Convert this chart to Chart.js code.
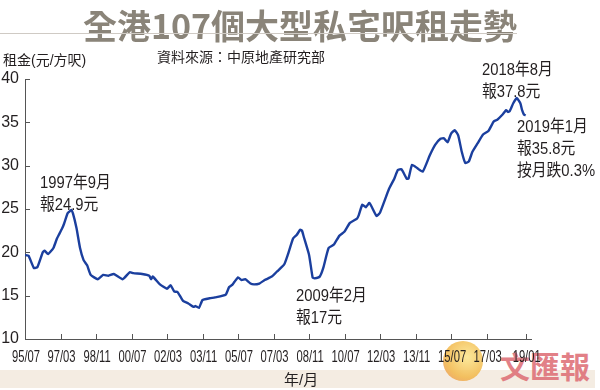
<!DOCTYPE html>
<html>
<head>
<meta charset="utf-8">
<script src="https://cdn.jsdelivr.net/npm/chart.js@4"></script>
<style>
  html, body { margin: 0; padding: 0; background: #fff; }
  #wrap { position: relative; width: 600px; height: 390px; overflow: hidden;
          font-family: 'Liberation Sans', 'Noto Sans CJK TC', sans-serif; color: #231f20; }
  #chart { position: absolute; left: 0; top: 0; }
  .txt { position: absolute; white-space: nowrap; line-height: 1; }
  #title { left: 0; width: 600px; top: 0; text-align: center; font: bold 34px 'Noto Sans CJK TC', sans-serif;
           color: #8a8479; }
  #rule { position: absolute; left: 0; top: 33px; width: 517px; height: 1px; background: #cfcac4; }
  #band { position: absolute; left: 0; top: 370px; width: 595px; height: 18px; background: #f4ece2; }
  .note { font-size: 17px; line-height: 22px; transform: scaleX(0.87); transform-origin: 0 0;
          font-family: 'Liberation Sans', 'Noto Sans CJK TC', sans-serif; }
  .small { font-size: 14px; font-family: 'Liberation Sans', 'Noto Sans CJK TC', sans-serif; }
  #logoBall { position: absolute; left: 443px; top: 341px; width: 40px; height: 40px; border-radius: 50%;
              background: radial-gradient(circle at 60% 40%, #fbe58a, #f2b748 60%, #e98b5a); opacity: 0.85; }
  #logoTxt { left: 500px; top: 343px; font: bold 30px 'Noto Sans CJK TC', serif; color: #dd6b73; opacity: 0.85; }
</style>
</head>
<body>
<div id="wrap">
  <div id="band"></div>
  <div id="logoBall"></div>
  <div id="logoTxt" class="txt">文匯報</div>
  <canvas id="chart" width="600" height="390"></canvas>
  <div id="title" class="txt">全港107個大型私宅呎租走勢</div>
  <div id="rule"></div>
  <div class="txt small" style="left:3px;top:53px;">租金(元/方呎)</div>
  <div class="txt small" style="left:157px;top:50px;">資料來源：中原地產研究部</div>
  <div class="txt note" style="left:40px;top:172px;">1997年9月<br>報24.9元</div>
  <div class="txt note" style="left:296px;top:285px;">2009年2月<br>報17元</div>
  <div class="txt note" style="left:482px;top:59px;">2018年8月<br>報37.8元</div>
  <div class="txt note" style="left:517px;top:116px;">2019年1月<br>報35.8元<br>按月跌0.3%</div>
  <div class="txt small" style="left:284px;top:372px;font-size:15px;">年/月</div>
</div>
<script>
'use strict';

// ─── Data ─────────────────────────────────────────────────────────────────────
const months = [
  '1995/07','1995/09','1995/12','1996/02','1996/05','1996/06','1996/08','1996/11',
  '1997/01','1997/02','1997/04','1997/05','1997/07','1997/08','1997/09','1997/10','1997/12',
  '1998/02','1998/04','1998/06','1998/08','1998/12','1999/03','1999/06','1999/09',
  '2000/02','2000/06','2000/08','2001/01','2001/05','2001/06','2001/07','2001/11',
  '2002/03','2002/05','2002/07','2002/09','2002/12','2003/03','2003/06','2003/07','2003/09','2003/11',
  '2004/03','2004/06','2004/12','2005/02','2005/04','2005/05','2005/07','2005/09','2005/11',
  '2006/02','2006/04','2006/07','2006/10','2007/02','2007/05','2007/09','2007/11',
  '2008/02','2008/04','2008/06','2008/07','2008/08','2008/11','2009/01','2009/02','2009/05','2009/07','2009/10',
  '2010/01','2010/04','2010/07','2010/10','2011/02','2011/03','2011/05','2011/07','2011/09',
  '2012/01','2012/03','2012/08','2012/11','2013/01','2013/03','2013/06','2013/07','2013/09','2013/12',
  '2014/03','2014/07','2014/10','2015/01','2015/03','2015/05','2015/07','2015/09','2015/11',
  '2016/01','2016/03','2016/05','2016/07','2016/10','2017/01','2017/04','2017/07','2017/09','2017/12',
  '2018/02','2018/03','2018/04','2018/06','2018/08','2018/10','2018/11','2018/12','2019/01'
];
const rents = [
  19.7, 19.6, 18.2, 18.3, 20.0, 20.2, 19.8, 20.5,
  21.6, 22.0, 22.8, 23.3, 24.5, 24.7, 24.9, 24.5, 22.8,
  20.5, 19.1, 18.5, 17.4, 16.9, 17.4, 17.3, 17.5,
  16.9, 17.7, 17.6, 17.5, 17.3, 16.9, 17.2, 16.3,
  15.8, 16.2, 15.5, 15.4, 14.4, 14.1, 13.7, 13.8, 13.6, 14.5,
  14.7, 14.8, 15.1, 16.0, 16.3, 16.6, 17.1, 16.8, 16.9,
  16.4, 16.3, 16.4, 16.8, 17.2, 17.8, 18.6, 19.7,
  21.6, 22.0, 22.6, 22.5, 21.8, 19.7, 17.1, 17.0, 17.2, 18.2, 20.5,
  20.9, 21.9, 22.4, 23.4, 23.9, 24.3, 25.5, 25.2, 25.7,
  24.2, 24.6, 27.3, 28.5, 29.5, 29.6, 28.5, 28.5, 30.1, 29.7,
  29.3, 31.2, 32.4, 33.1, 33.15, 32.7, 33.7, 34.1, 33.5,
  31.6, 30.3, 30.5, 31.6, 32.6, 33.6, 34.0, 35.1, 35.3, 35.9,
  36.4, 36.2, 36.3, 37.2, 37.8, 37.2, 36.4, 35.9, 35.8
];
const xTickLabels = ['95/07','97/03','98/11','00/07','02/03','03/11','05/07','07/03',
                     '08/11','10/07','12/03','13/11','15/07','17/03','19/01'];
const yTicks = [10, 15, 20, 25, 30, 35, 40];

// months since 1995/07
function monthIndex(y, m) { return (y - 1995) * 12 + (m - 7); }
const points = months.map((s, i) => {
  const [y, m] = s.split('/').map(Number);
  return { x: monthIndex(y, m), y: rents[i] };
});
const xTickValues = xTickLabels.map(s => {
  const [yy, mm] = s.split('/').map(Number);
  return monthIndex(yy >= 50 ? 1900 + yy : 2000 + yy, mm);
});

// ─── Inner tick marks + condensed x labels ───────────────────────────────────
const axisDecor = {
  id: 'axisDecor',
  afterDraw(chart) {
    const { ctx, chartArea: a, scales: { x, y } } = chart;
    ctx.save();
    ctx.strokeStyle = '#555';
    ctx.lineWidth = 1;
    ctx.beginPath();
    xTickValues.forEach(v => {
      const px = Math.round(x.getPixelForValue(v)) + 0.5;
      ctx.moveTo(px, a.bottom); ctx.lineTo(px, a.bottom - 5);
    });
    yTicks.forEach(v => {
      const py = Math.round(y.getPixelForValue(v)) + 0.5;
      ctx.moveTo(a.left, py); ctx.lineTo(a.left + 5, py);
    });
    ctx.stroke();

    // the printed labels are a narrow face; squeeze them horizontally
    ctx.fillStyle = '#231f20';
    ctx.font = "17px 'Liberation Sans', sans-serif";
    ctx.textAlign = 'center';
    ctx.textBaseline = 'middle';
    xTickValues.forEach((v, i) => {
      ctx.save();
      ctx.translate(x.getPixelForValue(v) + 1, a.bottom + 18);
      ctx.scale(0.66, 1);
      ctx.fillText(xTickLabels[i], 0, 0);
      ctx.restore();
    });
    ctx.restore();
  }
};

// ─── Chart ────────────────────────────────────────────────────────────────────
new Chart(document.getElementById('chart'), {
  type: 'line',
  data: {
    datasets: [{
      data: points,
      borderColor: '#1b3f9e',
      borderWidth: 2.4,
      pointRadius: 0,
      tension: 0.15,
      fill: false,
    }]
  },
  options: {
    responsive: false,
    animation: false,
    layout: { padding: { top: 79, right: 69, bottom: 0, left: 0 } },
    plugins: { legend: { display: false }, tooltip: { enabled: false } },
    scales: {
      x: {
        type: 'linear', min: 0, max: 285,
        afterBuildTicks: s => { s.ticks = xTickValues.map(v => ({ value: v })); },
        afterFit: s => { s.height = 51; },
        grid: { display: false, drawTicks: false },
        border: { display: true, color: '#555', width: 1 },
        ticks: { display: false }
      },
      y: {
        min: 10, max: 40,
        afterBuildTicks: s => { s.ticks = yTicks.map(v => ({ value: v })); },
        afterFit: s => { s.width = 25; },
        grid: { display: false, drawTicks: false },
        border: { display: true, color: '#555', width: 1 },
        ticks: {
          padding: 6, color: '#231f20',
          font: { family: "'Liberation Sans', sans-serif", size: 16 }
        }
      }
    }
  },
  plugins: [axisDecor]
});
</script>
</body>
</html>
